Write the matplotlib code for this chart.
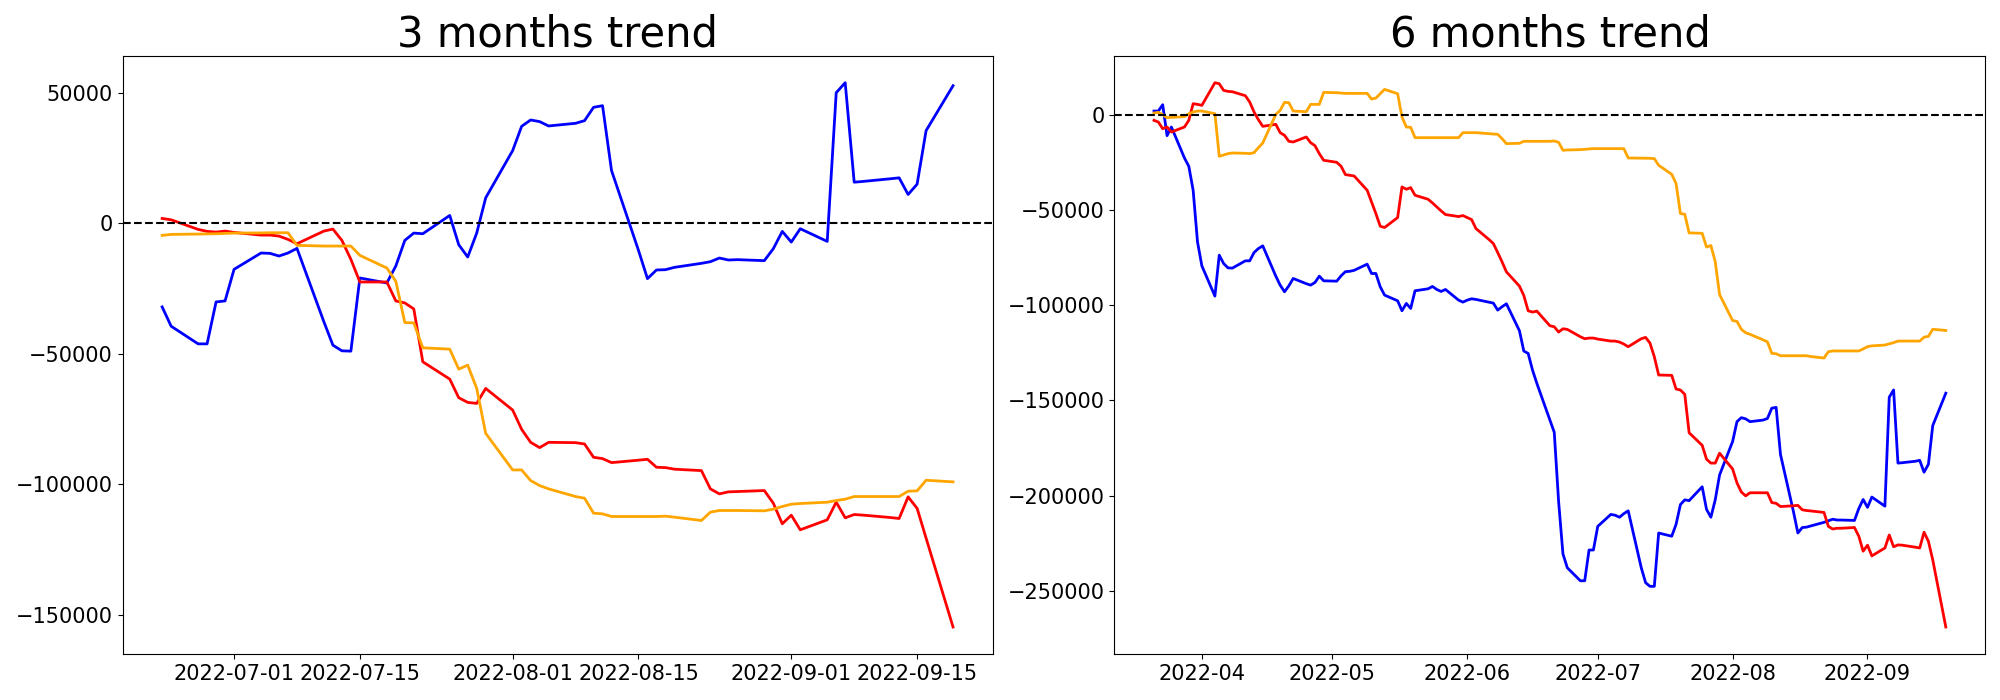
import pandas as pd
import matplotlib
matplotlib.use("Agg")
import matplotlib.pyplot as plt
import matplotlib.dates as mdates

# 3 months window (business days)
dates_3m = pd.bdate_range("2022-06-23", "2022-09-19")
blue_3m = [-32050, -39440, -46200, -46200, -30140, -29760,
           -17660, -11410, -11540, -12560, -11410, -9630, -37790, -46700, -48870, -48990,
           -20970, -22880, -16380, -6570, -3770, -4030, 2980, -8230, -12940, -3770, 9730,
           27820, 37120, 39550, 38910, 37250, 38270, 39290, 44390, 45020, 20180,
           -10400, -21220, -17910, -17790, -16900, -15360, -14730, -13330, -14080, -13950,
           -14330, -9760, -3130,
           -7210, -2110, -6960, 49990, 53810, 15720, 16010, 17020, 17380, 11010, 14960, 35470, 52670]
red_3m = [1830, 1320, -2360, -3130, -3390, -3010,
          -3520, -4540, -4540, -4920, -6190, -7850, -3010, -2240, -6570, -13840,
          -22500, -22500, -29760, -30520, -32820, -53070, -59700, -66830, -68620, -69000, -63270,
          -71550, -78940, -83910, -85940, -83910, -84040, -84550, -89640, -90150, -91680,
          -90750, -90400, -93460, -93590, -94200, -94740, -101740, -103650, -102880, -102760,
          -102380, -107220, -115120,
          -111810, -117410, -113590, -106840, -112830, -111560, -111800, -112700, -113080,
          -104800, -109200, -120600, -154640]
orange_3m = [-4660, -4280, -4150, -4090, -4030, -3900,
             -3770, -3710, -3640, -3640, -3640, -8480, -8740, -8740, -8740, -8740,
             -12310, -17150, -22240, -38040, -38170, -47720, -48230, -55880, -54350, -63270, -80470,
             -94480, -94480, -98560, -100470, -101740, -104670, -105310, -111040, -111300, -112320,
             -112320, -112320, -112320, -112190, -112570, -113850, -110660, -110020, -110020, -110020,
             -110150, -109510, -108490,
             -107600, -107350, -106840, -106200, -105690, -104670, -104670, -104670, -104670,
             -102630, -102500, -98430, -99060]

# 6 months window (business days)
dates_6m = pd.bdate_range("2022-03-21", "2022-09-19")
blue_6m = [2010, 2010, 5330, -10930, -6380, -22650, -27020, -39610, -66720,
           -79320, -95230, -73720, -78090, -80370, -80540, -76690, -76690, -72320, -70220, -68820,
           -84740, -89460, -92960, -89810, -85960, -88700, -89460, -88060, -84740, -87190,
           -87370, -84560, -82380, -82200, -81690, -78440, -83340, -83340, -90330, -94710, -97680,
           -102930, -99080, -101700, -92430, -91390, -90160, -91740, -92780, -91740, -97330, -98380,
           -97330, -96630, -96980, -98380, -98900, -102580, -100830, -99250, -113420, -124090, -125320,
           -134060, -141060, -160300, -166770, -203110, -230660, -237950, -244780, -244780, -228610, -228610,
           -216180, -209930, -210340, -211400, -209500, -208040, -237950, -245800, -247700, -247700,
           -219690, -221370, -215130, -204740, -202270, -202690, -195400, -207260, -211400, -202270, -189210,
           -171580, -161190, -159090, -159720, -161190, -160350, -159510, -154100, -153690, -178400,
           -208670, -219690, -216810, -216600, -215950, -214080, -213250, -212450, -212870, -212870,
           -213080, -206840, -202060,
           -206210, -200800, -205580, -148330, -144550, -182960, -182750, -182000, -181490,
           -187740, -183590, -163230, -146230]
red_6m = [-2890, -3760, -7260, -6380, -9010, -6380, -2890, 5860, 5510,
          4980, 16880, 16350, 12860, 12330, 12160, 10060, 6730, 1490, -2540, -6030,
          -4980, -9360, -10760, -13900, -14250, -11630, -14600, -16180, -20380, -23870,
          -24920, -27020, -31390, -31740, -32100, -39610, -45740, -51860, -58500, -59200, -53960,
          -37870, -39090, -38220, -42240, -44340, -46260, -48360, -50460, -52380, -53430, -52910,
          -53960, -55010, -59730, -65500, -67600, -72320, -77220, -82470, -89990, -94880, -102930,
          -103630, -103100, -110800, -111330, -114120, -112370, -112720, -116570, -117620, -117270, -117270,
          -117800, -118850, -118850, -119370, -120420, -121820, -117620, -116920, -119900, -127070,
          -136680, -136860, -144030, -144560, -146830, -167010, -173620, -180910, -182960, -182960, -177770,
          -186060, -193350, -198130, -200170, -198550, -198550, -198550, -203690, -204100, -205790,
          -205380, -205170, -207470, -207890, -208100, -208880, -216180, -217600, -217180, -217180,
          -216800, -221370, -229240,
          -226090, -231710, -227560, -220740, -226930, -225930, -226090, -227140, -227560,
          -219270, -224050, -233800, -269070]
orange_6m = [960, 1310, 90, -1490, -1310, -960, 610, 1490, 2010,
             2010, 610, -21780, -21070, -20380, -20030, -20200, -20380, -19850, -17230, -14780,
             260, 2360, 6560, 6380, 2010, 1660, 5510, 5510, 5510, 11810,
             11630, 11460, 11280, 11280, 11280, 11280, 8310, 8830, 11110, 13380, 11110,
             -1140, -6380, -6560, -11980, -11980, -11980, -11980, -11980, -11980, -11980, -9360,
             -9360, -9360, -9360, -9880, -10060, -10230, -12500, -15130, -14950, -13900, -13900,
             -13900, -13900, -13900, -13730, -14430, -18630, -18450, -18280, -18100, -17930, -17750,
             -17750, -17750, -17750, -17750, -17750, -22650, -22740, -22820, -22820, -23000,
             -26500, -31220, -36120, -51860, -52210, -62020, -62220, -69470, -68630, -77130, -94390,
             -108090, -108500, -112650, -114490, -115300, -118220, -119260, -125300, -125500, -126560,
             -126560, -126560, -126560, -126560, -126980, -127760, -124460, -124040, -124040, -124040,
             -124040, -124040, -122990,
             -121780, -121370, -120940, -120300, -119680, -118850, -118850, -118850, -118850,
             -116800, -116380, -112650, -113270]

fig = plt.figure(figsize=(20, 7), dpi=100)
ax1 = fig.add_axes([0.0613, 0.0654, 0.435, 0.8553])
ax2 = fig.add_axes([0.5572, 0.0654, 0.4355, 0.8553])

for ax, d, b, r, o, title in [(ax1, dates_3m, blue_3m, red_3m, orange_3m, "3 months trend"),
                              (ax2, dates_6m, blue_6m, red_6m, orange_6m, "6 months trend")]:
    ax.plot(d, b, color="blue", linewidth=2)
    ax.plot(d, r, color="red", linewidth=2)
    ax.plot(d, o, color="orange", linewidth=2)
    ax.axhline(0, color="black", linestyle="--", linewidth=1.5)
    ax.set_title(title, fontsize=30)
    ax.tick_params(labelsize=15)

ax1.xaxis.set_major_locator(mdates.DayLocator(bymonthday=[1, 15]))
ax1.xaxis.set_major_formatter(mdates.DateFormatter("%Y-%m-%d"))
ax2.xaxis.set_major_locator(mdates.MonthLocator())
ax2.xaxis.set_major_formatter(mdates.DateFormatter("%Y-%m"))

fig.savefig("out.png", dpi=100)
